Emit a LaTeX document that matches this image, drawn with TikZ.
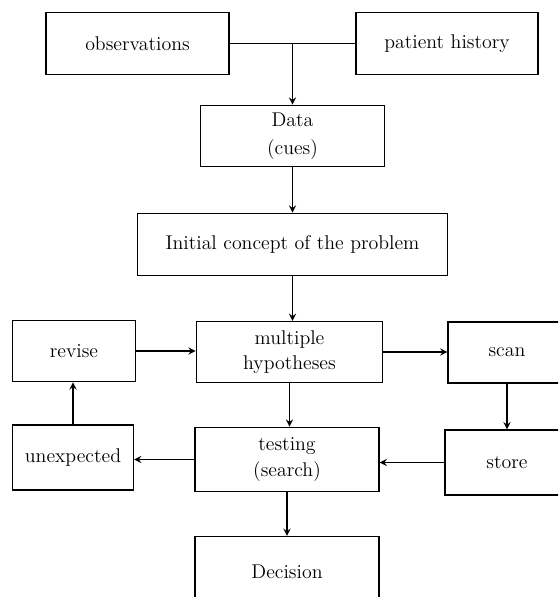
\documentclass[tikz,border=0pt]{standalone}
\usepackage{amsmath, amssymb}
\usetikzlibrary{arrows}

\begin{document}
\begin{tikzpicture}
[box/.style={rectangle,draw=black,line width=0.8pt,inner sep=0pt,align=center,minimum height=1.24cm,font=\fontsize{11.3}{14}\selectfont},
classical/.style={line width=0.8pt,->,shorten >=0pt,shorten <=0pt,>=stealth},
plain/.style={line width=0.8pt}]
\useasboundingbox (0,0) rectangle (11.16,-11.94);
\clip (0,0) rectangle (11.16,-11.94);

% first row
\node[box,minimum width=3.66cm] (obs) at (2.75,-0.87) {observations};
\node[box,minimum width=3.64cm] (hist) at (8.94,-0.87) {patient history};
\coordinate (jn) at (5.85,-0.87);

\node[box,minimum width=3.68cm,minimum height=1.23cm] (data) at (5.85,-2.72) {Data\\[2pt](cues)};
\node[box,minimum width=6.2cm,minimum height=1.25cm] (init) at (5.85,-4.89) {Initial concept of the problem};

% hypotheses row
\node[box,minimum width=2.47cm,minimum height=1.23cm] (revise) at (1.48,-7.02) {revise};
\node[box,minimum width=3.73cm,minimum height=1.22cm] (hyp) at (5.79,-7.04) {multiple\\hypotheses};
\node[box,minimum width=2.36cm,minimum height=1.22cm] (scan) at (10.14,-7.05) {scan};

% testing row
\node[box,minimum width=2.42cm,minimum height=1.3cm] (unexp) at (1.46,-9.15) {unexpected};
\node[box,minimum width=3.68cm,minimum height=1.29cm] (test) at (5.74,-9.19) {testing\\[1pt](search)};
\node[box,minimum width=2.48cm,minimum height=1.3cm] (store) at (10.14,-9.25) {store};

% last row
\node[box,minimum width=3.68cm,minimum height=1.4cm] (dec) at (5.74,-11.43) {Decision};

\draw[plain] (obs) to (hist);
\draw[classical] (jn) to (jn |- data.north);
\draw[classical] (data) to (data |- init.north);
\draw[classical] (init) to (init |- hyp.north);
\draw[classical] (revise.east) to (revise.east -| hyp.west);
\draw[classical] (hyp.east) to (hyp.east -| scan.west);
\draw[classical] (scan) to (scan |- store.north);
\draw[classical] (hyp.south) to (hyp.south |- test.north);
\draw[classical] (store.west) to (store.west -| test.east);
\draw[classical] (test.west) to (test.west -| unexp.east);
\draw[classical] (unexp) to (unexp |- revise.south);
\draw[classical] (test) to (test |- dec.north);

\end{tikzpicture}
\end{document}
